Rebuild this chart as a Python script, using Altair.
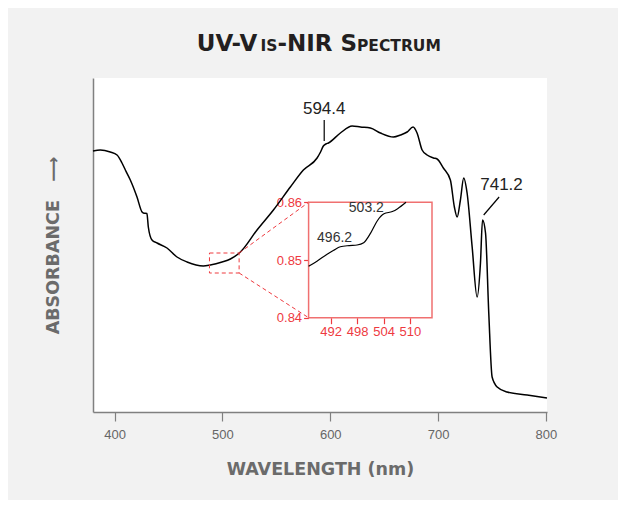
import altair as alt
import pandas as pd

# ---------------- data ----------------
wavelength = [380.0, 386.8, 396.0, 402.3, 406.9, 410.0, 414.6, 420.8, 425.5, 426.7,
              430.0, 431.3, 434.7, 439.4, 448.6, 457.9, 467.2, 482.3, 488.8, 499.7,
              507.4, 516.7, 532.1, 547.3, 563.0, 575.1, 587.8, 591.0, 593.6, 596.0,
              598.3, 609.4, 620.3, 628.0, 637.2, 646.5, 658.6, 665.1, 671.3, 676.8,
              680.5, 685.2, 689.8, 695.7, 699.1, 704.9, 711.4, 715.1, 717.7, 720.7,
              723.8, 726.9, 731.6, 736.2, 739.3, 741.2, 744.0, 747.0, 750.1, 754.8,
              764.0, 782.6, 801.0]
absorbance = [0.962, 0.963, 0.961, 0.958, 0.950, 0.943, 0.933, 0.916, 0.901, 0.900,
              0.8995, 0.886, 0.873, 0.870, 0.865, 0.856, 0.851, 0.847, 0.848, 0.851,
              0.854, 0.861, 0.883, 0.903, 0.926, 0.943, 0.955, 0.961, 0.967, 0.969,
              0.970, 0.980, 0.987, 0.986, 0.985, 0.980, 0.976, 0.978, 0.981, 0.986,
              0.980, 0.963, 0.958, 0.955, 0.954, 0.945, 0.933, 0.906, 0.896, 0.913,
              0.935, 0.920, 0.866, 0.816, 0.850, 0.893, 0.880, 0.800, 0.736, 0.726,
              0.721, 0.718, 0.715]

inset_wavelength = [487.0, 488.9, 491.2, 492.7, 494.2, 496.2, 498.0, 499.5, 501.1,
                    502.6, 504.1, 506.0, 507.2, 509.1]
inset_absorbance = [0.8489, 0.8498, 0.8510, 0.8517, 0.8523, 0.8525, 0.8526, 0.8530,
                    0.8547, 0.8568, 0.8580, 0.8584, 0.8589, 0.8600]

main_peak_labels = ["594.4", "741.2"]
inset_peak_labels = ["496.2", "503.2"]
x_ticks = [400, 500, 600, 700, 800]
inset_x_ticks = [492, 498, 504, 510]
inset_y_ticks = [0.84, 0.85, 0.86]

# ---------------- layout / style ----------------
W, H = 454, 334
X_DOMAIN = [380, 801]
Y_DOMAIN = [0.701, 1.035]
INSET_X_DOMAIN = [487, 515]
INSET_Y_DOMAIN = [0.84, 0.86]
ZOOM_X = [488, 515.5]            # dashed box in main coordinates
INSET_RANGE_X = [215.6, 339.0]   # inset panel placement inside the plot (px)
INSET_RANGE_Y = [239.7, 124.3]
RED = "#ee3a3f"
BOX_RED = "#f07070"
GREY = "#6b6b6b"
NUM_FONT = "Liberation Sans"
TITLE_FONT = "DejaVu Sans"

main_x_scale = alt.Scale(domain=X_DOMAIN, nice=False, zero=False)
main_y_scale = alt.Scale(domain=Y_DOMAIN, nice=False, zero=False)
main_x_axis = alt.Axis(values=x_ticks, title="WAVELENGTH (nm)", grid=False,
                       domainColor="#808080", domainWidth=1.5, tickColor="#808080",
                       tickWidth=1.2, tickSize=9, labelPadding=7, labelFont=NUM_FONT,
                       labelFontSize=13, labelColor="#666666", titleFont=TITLE_FONT,
                       titleFontSize=17.5, titleFontWeight="bold", titleColor=GREY,
                       titlePadding=19)
main_y_axis = alt.Axis(title="ABSORBANCE\u00a0\u00a0\u00a0\u27f6", labels=False, ticks=False,
                       grid=False, domainColor="#808080", domainWidth=1.5, titleFont=TITLE_FONT,
                       titleFontSize=17.5, titleFontWeight="bold", titleColor=GREY,
                       titlePadding=31)

inset_x_scale = alt.Scale(domain=INSET_X_DOMAIN, range=INSET_RANGE_X, nice=False, zero=False)
inset_y_scale = alt.Scale(domain=INSET_Y_DOMAIN, range=INSET_RANGE_Y, nice=False, zero=False)
inset_x_axis = alt.Axis(orient="bottom", offset=-(H - INSET_RANGE_Y[0]), values=inset_x_ticks,
                        title=None, domain=False, grid=False, tickColor=RED, tickSize=6,
                        tickWidth=1.2, labelColor=RED, labelFont=NUM_FONT, labelFontSize=13,
                        labelPadding=2)
inset_y_axis = alt.Axis(orient="left", offset=-INSET_RANGE_X[0], values=inset_y_ticks,
                        format=".2f", title=None, domain=False, grid=False, tickColor=RED,
                        tickSize=5, tickWidth=1.2, labelColor=RED, labelFont=NUM_FONT,
                        labelFontSize=13, labelPadding=2)


def MX(f):
    return alt.X(f, type="quantitative", scale=main_x_scale, axis=main_x_axis)


def MY(f):
    return alt.Y(f, type="quantitative", scale=main_y_scale, axis=main_y_axis)


def IX(f):
    return alt.X(f, type="quantitative", scale=inset_x_scale, axis=inset_x_axis)


def IY(f):
    return alt.Y(f, type="quantitative", scale=inset_y_scale, axis=inset_y_axis)


spec = pd.DataFrame({"wl": wavelength, "a": absorbance})
inset = pd.DataFrame({"wl": inset_wavelength, "a": inset_absorbance})

# ---- main layers ----
line = alt.Chart(spec).mark_line(color="black", strokeWidth=1.5,
                                 interpolate="monotone").encode(x=MX("wl"), y=MY("a"))

zoom_df = pd.DataFrame({"x0": [ZOOM_X[0]], "x1": [ZOOM_X[1]],
                        "y0": [INSET_Y_DOMAIN[0]], "y1": [INSET_Y_DOMAIN[1]]})
zoom_box = alt.Chart(zoom_df).mark_rect(filled=False, stroke=RED, strokeWidth=1,
                                        strokeDash=[4, 3]).encode(
    x=MX("x0"), x2="x1", y=MY("y0"), y2="y1")
conn_top = alt.Chart(zoom_df).mark_rule(color=RED, strokeWidth=1, strokeDash=[4, 3]).encode(
    x=MX("x1"), y=MY("y1"), x2=alt.value(INSET_RANGE_X[0]), y2=alt.value(INSET_RANGE_Y[1]))
conn_bot = alt.Chart(zoom_df).mark_rule(color=RED, strokeWidth=1, strokeDash=[4, 3]).encode(
    x=MX("x1"), y=MY("y0"), x2=alt.value(INSET_RANGE_X[0]), y2=alt.value(INSET_RANGE_Y[0]))

lead_df = pd.DataFrame({"x0": [594.4, 742.3], "x1": [594.4, 756.6],
                        "y0": [0.972, 0.898], "y1": [0.993, 0.916]})
leaders = alt.Chart(lead_df).mark_rule(color="black", strokeWidth=1.2).encode(
    x=MX("x0"), x2="x1", y=MY("y0"), y2="y1")

lab_df = pd.DataFrame({"label": main_peak_labels, "x": [594.4, 758.8], "y": [0.999, 0.923]})
labels = alt.Chart(lab_df).mark_text(font=NUM_FONT, fontSize=17, color="#222222",
                                     align="center", baseline="alphabetic").encode(
    x=MX("x"), y=MY("y"), text="label")

# ---- title in small caps (large + small capitals) ----
TITLE_Y = -27
title_parts = [("UV-V", 23, 103.7), ("IS", 15.5, 167.5), ("-NIR S", 23, 184.4),
               ("PECTRUM", 15.5, 264.0)]
title_layers = []
for txt, size, xpos in title_parts:
    title_layers.append(
        alt.Chart(pd.DataFrame({"t": [txt]})).mark_text(
            font=TITLE_FONT, fontSize=size, fontWeight="bold", color="#231f20",
            align="left", baseline="alphabetic").encode(
            x=alt.value(xpos), y=alt.value(TITLE_Y), text="t"))

# ---- inset layers ----
box_df = pd.DataFrame({"x0": [INSET_X_DOMAIN[0]], "x1": [INSET_X_DOMAIN[1]],
                       "y0": [INSET_Y_DOMAIN[0]], "y1": [INSET_Y_DOMAIN[1]]})
box = alt.Chart(box_df).mark_rect(fill="white", stroke=BOX_RED, strokeWidth=1.5).encode(
    x=IX("x0"), x2="x1", y=IY("y0"), y2="y1")
inset_line = alt.Chart(inset).mark_line(color="black", strokeWidth=1.2,
                                        interpolate="monotone").encode(x=IX("wl"), y=IY("a"))
ilab_df = pd.DataFrame({"label": inset_peak_labels, "x": [492.9, 500.1], "y": [0.8531, 0.8583]})
inset_labels = alt.Chart(ilab_df).mark_text(font=NUM_FONT, fontSize=14, color="#333333",
                                            align="center", baseline="alphabetic").encode(
    x=IX("x"), y=IY("y"), text="label")

main = alt.layer(line, zoom_box, conn_top, conn_bot, leaders, labels, *title_layers)
inset_layer = alt.layer(box, inset_line, inset_labels)

chart = alt.layer(main, inset_layer).resolve_scale(
    x="independent", y="independent"
).properties(
    width=W, height=H,
    autosize=alt.AutoSizeParams(type="none"),
    padding={"left": 85, "top": 70, "right": 71, "bottom": 88},
).configure(background="#f2f2f2").configure_view(fill="white", stroke=None)

chart.save("out.html", embed_options={"renderer": "svg", "actions": False})
